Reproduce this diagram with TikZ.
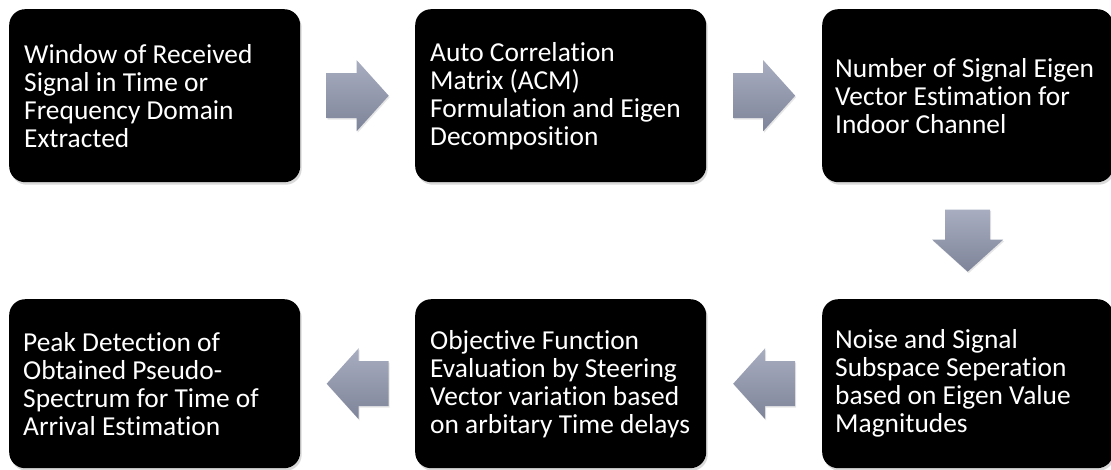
\documentclass[tikz,border=0pt]{standalone}
\usepackage{fontspec}
\setmainfont{Carlito}[Ligatures=NoCommon]
\usetikzlibrary{shadows,calc}
\definecolor{arrtop}{RGB}{168,173,192}
\definecolor{arrbot}{RGB}{126,132,153}
\begin{document}
\begin{tikzpicture}[x=1pt,y=-1pt,
  stepbox/.style={rectangle, rounded corners=16pt, fill=black,
    minimum width=291pt, inner sep=0pt, anchor=north west,
    drop shadow={shadow xshift=1.5pt, shadow yshift=-2.5pt, opacity=0.3}},
  toprow/.style={minimum height=173pt},
  botrow/.style={minimum height=169pt},
  steptext/.style={text=white, align=left, anchor=west, inner sep=0pt,
    font=\fontsize{27.4}{28}\selectfont},
  flowarrow/.style={draw=none, top color=arrtop, bottom color=arrbot,
    drop shadow={shadow xshift=1pt, shadow yshift=-1.5pt, opacity=0.2}}
]
\useasboundingbox (0,0) rectangle (1111,469);

\node[stepbox,toprow] (b1) at (9,9) {};
\node[stepbox,toprow] (b2) at (415,9) {};
\node[stepbox,toprow] (b3) at (822,9) {};
\node[stepbox,botrow] (b6) at (822,299) {};
\node[stepbox,botrow] (b5) at (415,299) {};
\node[stepbox,botrow] (b4) at (9,299) {};

\node[steptext] (t1) at ($(b1.west)+(15,0)$) {Window of Received\\Signal in Time or\\Frequency Domain\\Extracted};
\node[steptext] (t2) at ($(b2.west)+(15,0)$) {Auto Correlation\\Matrix (ACM)\\Formulation and Eigen\\Decomposition};
\node[steptext] (t3) at ($(b3.west)+(13,0)$) {Number of Signal Eigen\\Vector Estimation for\\Indoor Channel};
\node[steptext] (t6) at ($(b6.west)+(13,0)$) {Noise and Signal\\Subspace Seperation\\based on Eigen Value\\Magnitudes};
\node[steptext] (t5) at ($(b5.west)+(15,0)$) {Objective Function\\Evaluation by Steering\\Vector variation based\\on arbitary Time delays};
\node[steptext] (t4) at ($(b4.west)+(14,0)$) {Peak Detection of\\Obtained Pseudo-\\Spectrum for Time of\\Arrival Estimation};

\coordinate (a1) at ($(b1.east)!0.5!(b2.west)$);
\coordinate (a2) at ($(b2.east)!0.5!(b3.west)$);
\coordinate (a3) at ($(b3.south)!0.5!(b6.north)$);
\coordinate (a4) at ($(b6.west)!0.5!(b5.east)$);
\coordinate (a5) at ($(b5.west)!0.5!(b4.east)$);

\foreach \c in {a1,a2}{
  \begin{scope}[shift={(\c)}]
    \shade[flowarrow] (-31,-22.5) -- (-1,-22.5) -- (-1,-35.5) -- (31,0) -- (-1,35.5) -- (-1,22.5) -- (-31,22.5) -- cycle;
  \end{scope}}
\foreach \c in {a4,a5}{
  \begin{scope}[shift={(\c)}]
    \shade[flowarrow] (31,-22.5) -- (1,-22.5) -- (1,-35.5) -- (-31,0) -- (1,35.5) -- (1,22.5) -- (31,22.5) -- cycle;
  \end{scope}}
\begin{scope}[shift={(a3)}]
  \shade[flowarrow] (-22.5,-31) -- (-22.5,-1) -- (-35.5,-1) -- (0,31) -- (35.5,-1) -- (22.5,-1) -- (22.5,-31) -- cycle;
\end{scope}
\end{tikzpicture}
\end{document}
